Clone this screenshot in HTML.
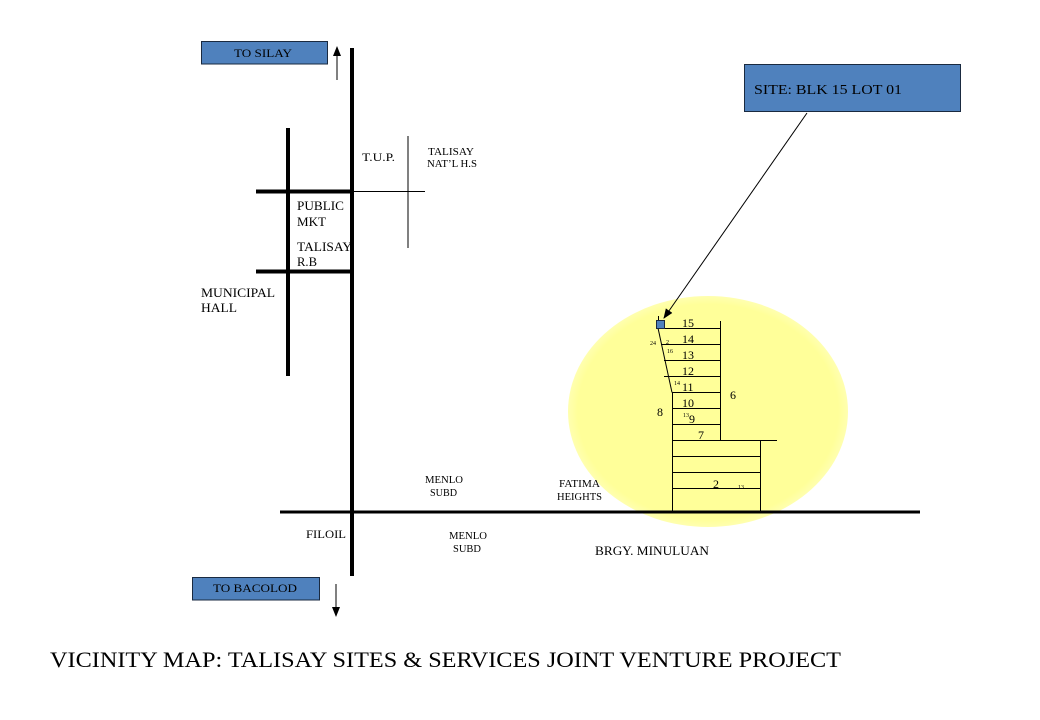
<!DOCTYPE html>
<html>
<head>
<meta charset="utf-8">
<style>
html,body{margin:0;padding:0;background:#fff;}
svg{display:block;}
text{font-family:"Liberation Serif","Times New Roman",serif;fill:#000;}
</style>
</head>
<body>
<svg width="1040" height="720" viewBox="0 0 1040 720" xmlns="http://www.w3.org/2000/svg">
<defs>
<marker id="ah" markerWidth="10" markerHeight="10" refX="9" refY="5" orient="auto" markerUnits="userSpaceOnUse">
<path d="M0,1 L10,5 L0,9 Z" fill="#000"/>
</marker>
<radialGradient id="yg" cx="50%" cy="50%" r="50%">
<stop offset="0.93" stop-color="#ffff99"/>
<stop offset="1" stop-color="#ffffb0"/>
</radialGradient>
</defs>

<!-- yellow ellipse -->
<ellipse cx="708" cy="411.5" rx="140" ry="115.5" fill="url(#yg)"/>

<!-- roads -->
<line x1="352" y1="48" x2="352" y2="576" stroke="#000" stroke-width="4"/>
<line x1="288" y1="128" x2="288" y2="376" stroke="#000" stroke-width="4"/>
<line x1="256" y1="191.5" x2="352" y2="191.5" stroke="#000" stroke-width="4"/>
<line x1="352" y1="191.5" x2="425" y2="191.5" stroke="#000" stroke-width="1"/>
<line x1="408" y1="136" x2="408" y2="248" stroke="#000" stroke-width="1"/>
<line x1="256" y1="271.5" x2="352" y2="271.5" stroke="#000" stroke-width="4"/>
<line x1="280" y1="512" x2="920" y2="512" stroke="#000" stroke-width="3"/>

<!-- TO SILAY -->
<rect x="201.5" y="41.5" width="126" height="22.5" fill="#4f81bd" stroke="#1a2a40" stroke-width="1"/>
<text x="234" y="57" font-size="12" textLength="58" lengthAdjust="spacingAndGlyphs">TO SILAY</text>
<line x1="337" y1="80" x2="337" y2="47" stroke="#000" stroke-width="1" marker-end="url(#ah)"/>

<!-- TO BACOLOD -->
<rect x="192.5" y="577.5" width="127" height="22.5" fill="#4f81bd" stroke="#1a2a40" stroke-width="1"/>
<text x="213" y="592" font-size="12" textLength="84" lengthAdjust="spacingAndGlyphs">TO BACOLOD</text>
<line x1="336" y1="584" x2="336" y2="616" stroke="#000" stroke-width="1" marker-end="url(#ah)"/>

<!-- SITE box -->
<rect x="744.5" y="64.5" width="216" height="47" fill="#4f81bd" stroke="#1a2a40" stroke-width="1"/>
<text x="754" y="94" font-size="14" textLength="148" lengthAdjust="spacingAndGlyphs">SITE: BLK 15 LOT 01</text>
<line x1="807" y1="113" x2="664" y2="318" stroke="#000" stroke-width="1" marker-end="url(#ah)"/>

<!-- labels -->
<text x="362" y="161" font-size="12" textLength="33" lengthAdjust="spacingAndGlyphs">T.U.P.</text>
<text x="428" y="155" font-size="11" textLength="46" lengthAdjust="spacingAndGlyphs">TALISAY</text>
<text x="427" y="167" font-size="11" textLength="50" lengthAdjust="spacingAndGlyphs">NAT’L H.S</text>
<text x="297" y="210" font-size="13" textLength="47" lengthAdjust="spacingAndGlyphs">PUBLIC</text>
<text x="297" y="226" font-size="13" textLength="29" lengthAdjust="spacingAndGlyphs">MKT</text>
<text x="297" y="251" font-size="13" textLength="55" lengthAdjust="spacingAndGlyphs">TALISAY</text>
<text x="297" y="266" font-size="13" textLength="20" lengthAdjust="spacingAndGlyphs">R.B</text>
<text x="201" y="297" font-size="13" textLength="74" lengthAdjust="spacingAndGlyphs">MUNICIPAL</text>
<text x="201" y="312" font-size="13" textLength="36" lengthAdjust="spacingAndGlyphs">HALL</text>
<text x="425" y="483" font-size="11" textLength="38" lengthAdjust="spacingAndGlyphs">MENLO</text>
<text x="430" y="496" font-size="11" textLength="27" lengthAdjust="spacingAndGlyphs">SUBD</text>
<text x="559" y="487" font-size="11" textLength="41" lengthAdjust="spacingAndGlyphs">FATIMA</text>
<text x="557" y="500" font-size="11" textLength="45" lengthAdjust="spacingAndGlyphs">HEIGHTS</text>
<text x="306" y="538" font-size="12" textLength="40" lengthAdjust="spacingAndGlyphs">FILOIL</text>
<text x="449" y="539" font-size="11" textLength="38" lengthAdjust="spacingAndGlyphs">MENLO</text>
<text x="453" y="552" font-size="11" textLength="28" lengthAdjust="spacingAndGlyphs">SUBD</text>
<text x="595" y="555" font-size="13" textLength="114" lengthAdjust="spacingAndGlyphs">BRGY. MINULUAN</text>

<!-- lot plan -->
<g stroke="#000" stroke-width="1" fill="none">
<line x1="720.5" y1="321" x2="720.5" y2="440"/>
<line x1="664" y1="328.5" x2="720.5" y2="328.5"/>
<line x1="661" y1="344.5" x2="720.5" y2="344.5"/>
<line x1="664" y1="360.5" x2="720.5" y2="360.5"/>
<line x1="664" y1="376.5" x2="720.5" y2="376.5"/>
<line x1="672" y1="392.5" x2="720.5" y2="392.5"/>
<line x1="672" y1="408.5" x2="720.5" y2="408.5"/>
<line x1="672" y1="424.5" x2="720.5" y2="424.5"/>
<line x1="672" y1="440.5" x2="777" y2="440.5"/>
<line x1="672.5" y1="392" x2="672.5" y2="512"/>
<line x1="760.5" y1="440" x2="760.5" y2="512"/>
<line x1="672" y1="456.5" x2="760.5" y2="456.5"/>
<line x1="672" y1="472.5" x2="760.5" y2="472.5"/>
<line x1="672" y1="488.5" x2="760.5" y2="488.5"/>
<line x1="658" y1="328" x2="672" y2="392.5"/>
<line x1="658.5" y1="316" x2="658.5" y2="320"/>
</g>
<rect x="656.5" y="320.5" width="8" height="8" fill="#4f81bd" stroke="#1a2a40" stroke-width="1"/>

<g font-size="12">
<text x="682" y="327">15</text>
<text x="682" y="343">14</text>
<text x="682" y="359">13</text>
<text x="682" y="375">12</text>
<text x="682" y="391">11</text>
<text x="682" y="407">10</text>
<text x="689" y="423">9</text>
<text x="698" y="439">7</text>
<text x="730" y="399">6</text>
<text x="657" y="416">8</text>
<text x="713" y="488">2</text>
</g>
<g font-size="6">
<text x="650" y="345">24</text>
<text x="666" y="344">2</text>
<text x="667" y="353">16</text>
<text x="674" y="385">14</text>
<text x="683" y="417">13</text>
<text x="738" y="489">13</text>
</g>

<!-- title -->
<text x="50" y="667" font-size="22" textLength="791" lengthAdjust="spacingAndGlyphs">VICINITY MAP: TALISAY SITES &amp; SERVICES JOINT VENTURE PROJECT</text>
</svg>
</body>
</html>
